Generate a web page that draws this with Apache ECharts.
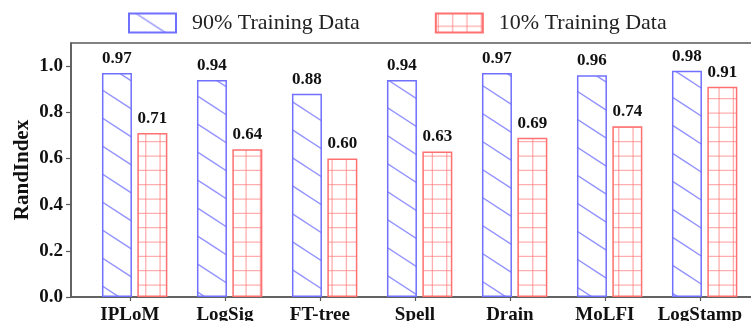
<!DOCTYPE html>
<html>
<head>
<meta charset="utf-8">
<script src="https://cdn.jsdelivr.net/npm/echarts@6/dist/echarts.min.js"></script>
<style>
  html, body { margin: 0; padding: 0; background: #fff; }
  #chart { width: 751px; height: 321px; }
</style>
</head>
<body>
<div id="chart"></div>
<script>
// Parsers compared on RandIndex
const categories = ['IPLoM', 'LogSig', 'FT-tree', 'Spell', 'Drain', 'MoLFI', 'LogStamp'];
const seriesNames = ['90% Training Data', '10% Training Data'];
const train90 = [0.97, 0.94, 0.88, 0.94, 0.97, 0.96, 0.98];
const train10 = [0.71, 0.64, 0.60, 0.63, 0.69, 0.74, 0.91];
const yTickValues = [0, 0.2, 0.4, 0.6, 0.8, 1.0];
const yTickLabels = ['0.0', '0.2', '0.4', '0.6', '0.8', '1.0'];

const SERIF = "'Liberation Serif', 'Times New Roman', serif";

// Hatch tile: "\" diagonals
function diagonalTile(color) {
  const w = 43, h = 28;
  const c = document.createElement('canvas');
  c.width = w; c.height = h;
  const ctx = c.getContext('2d');
  ctx.strokeStyle = color;
  ctx.lineWidth = 1.3;
  const off = -4.6;
  for (let k = -2; k <= 2; k++) {
    ctx.beginPath();
    ctx.moveTo(-w, -h + off + k * h);
    ctx.lineTo(2 * w, 2 * h + off + k * h);
    ctx.stroke();
  }
  return c;
}

// Hatch tile: "+" grid
function gridTile(color) {
  const s = 43, step = s / 3;
  const c = document.createElement('canvas');
  c.width = s; c.height = s;
  const ctx = c.getContext('2d');
  ctx.strokeStyle = color;
  ctx.lineWidth = 1.3;
  for (let j = -1; j <= 3; j++) {
    const x = 2.4 + j * step;
    ctx.beginPath(); ctx.moveTo(x, 0); ctx.lineTo(x, s); ctx.stroke();
    const y = 12.7 + j * step;
    ctx.beginPath(); ctx.moveTo(0, y); ctx.lineTo(s, y); ctx.stroke();
  }
  return c;
}

const bluePattern = { image: diagonalTile('rgba(110,110,255,0.75)'), repeat: 'repeat' };
const redPattern = { image: gridTile('rgba(255,120,120,0.6)'), repeat: 'repeat' };

const toPoints = vals => vals.map((v, i) => [i, v]);
const tickPositions = categories.map((_, i) => i - 0.05);

const valueLabel = {
  show: true,
  position: 'top',
  distance: 6,
  fontFamily: SERIF,
  fontWeight: 'bold',
  fontSize: 17,
  color: '#111',
  formatter: p => p.value[1].toFixed(2)
};

const chart = echarts.init(document.getElementById('chart'), null, { renderer: 'canvas' });
chart.setOption({
  animation: false,
  backgroundColor: '#fff',
  legend: {
    top: 7,
    left: 123,
    icon: 'rect',
    itemWidth: 47,
    itemHeight: 19,
    itemGap: 75,
    data: seriesNames,
    textStyle: {
      fontFamily: SERIF,
      fontSize: 22,
      color: '#222',
      padding: [0, 0, 0, 11]
    }
  },
  grid: {
    left: 71,
    top: 43,
    bottom: 24,
    width: 697.3,
    outerBoundsMode: 'none',
    show: true,
    borderColor: '#5a5a5a',
    borderWidth: 1.5,
    containLabel: false
  },
  xAxis: {
    type: 'value',
    min: -0.67,
    max: 6.67,
    splitLine: { show: false },
    axisLine: { show: true, onZero: false, lineStyle: { color: '#5a5a5a', width: 1.5 } },
    axisTick: { show: true, length: 4, customValues: tickPositions, lineStyle: { color: '#5a5a5a', width: 1.2 } },
    axisLabel: {
      customValues: tickPositions,
      formatter: v => categories[Math.round(v)],
      fontFamily: SERIF,
      fontWeight: 'bold',
      fontSize: 19,
      color: '#111',
      margin: 9
    }
  },
  yAxis: {
    type: 'value',
    min: 0,
    max: 1.1,
    name: 'RandIndex',
    nameLocation: 'middle',
    nameRotate: 90,
    nameGap: 38,
    nameMoveOverlap: false,
    nameTextStyle: { fontFamily: SERIF, fontWeight: 'bold', fontSize: 21, color: '#111' },
    splitLine: { show: false },
    axisLine: { show: true, onZero: false, lineStyle: { color: '#5a5a5a', width: 1.5 } },
    axisTick: { show: true, length: 5, customValues: yTickValues, lineStyle: { color: '#5a5a5a', width: 1.2 } },
    axisLabel: {
      customValues: yTickValues,
      formatter: v => yTickLabels[yTickValues.findIndex(t => Math.abs(t - v) < 1e-6)],
      fontFamily: SERIF,
      fontWeight: 'bold',
      fontSize: 19,
      color: '#111',
      margin: 8
    }
  },
  series: [
    {
      name: seriesNames[0],
      type: 'bar',
      data: toPoints(train90),
      barWidth: 30,
      barGap: '18%',
      itemStyle: { color: bluePattern, borderColor: '#7070ff', borderWidth: 1.5 },
      label: valueLabel
    },
    {
      name: seriesNames[1],
      type: 'bar',
      data: toPoints(train10),
      barWidth: 30,
      barGap: '18%',
      itemStyle: { color: redPattern, borderColor: '#ff7070', borderWidth: 1.5 },
      label: valueLabel
    }
  ]
});
</script>
</body>
</html>
